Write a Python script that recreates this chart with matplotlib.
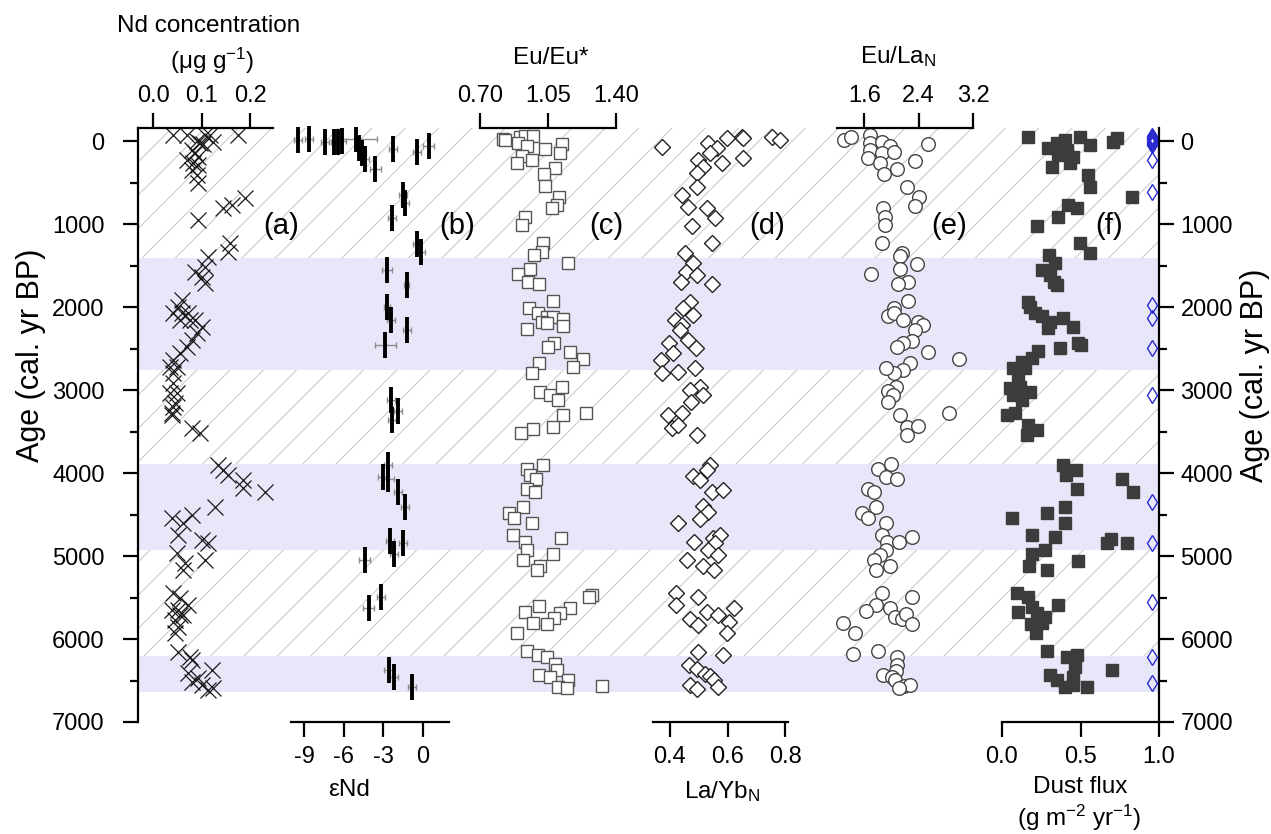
import numpy as np
import matplotlib
matplotlib.use("Agg")
import matplotlib.pyplot as plt
from matplotlib.ticker import MultipleLocator

plt.rcParams["font.family"] = ["Liberation Sans", "DejaVu Sans"]
plt.rcParams["mathtext.fontset"] = "custom"
plt.rcParams["mathtext.rm"] = "Liberation Sans"
plt.rcParams["mathtext.it"] = "Liberation Sans:italic"
plt.rcParams["hatch.linewidth"] = 0.8

W, H = 1271, 834
AGE_TOP, AGE_BOT = -157, 7000

# ---- grey/lavender bands (cal. yr BP) ----
band_lo = [1410, 3890, 6205]
band_hi = [2760, 4930, 6640]
hatch_end = 6640

# ---- (a) Nd concentration ----
a_age = [-70,-70,-70,-70,-70,0,20,40,10,110,150,190,230,260,290,350,410,500,807,771,687,952,
         1229,1337,1398,1518,1578,1639,1711,1916,2000,2072,2072,2072,2157,2157,2157,2240,2313,
         2398,2482,2554,2639,2723,2723,2795,2916,3036,3036,3157,3205,3277,3301,3458,3518,3904,
         3964,4024,4084,4181,4229,4410,4506,4542,4602,4747,4807,4843,4964,5048,5084,5169,5446,
         5506,5590,5651,5651,5711,5711,5771,5855,5928,6157,6217,6253,6373,6410,6470,6518,6554,
         6590,6614]
a_val = [0.041,0.070,0.107,0.117,0.175,0.090,0.096,0.103,0.123,0.080,0.086,0.092,0.070,0.082,
         0.092,0.080,0.090,0.092,0.144,0.163,0.189,0.092,0.158,0.154,0.113,0.107,0.086,0.101,
         0.107,0.059,0.051,0.041,0.059,0.072,0.055,0.076,0.086,0.101,0.090,0.080,0.070,0.055,
         0.041,0.035,0.049,0.041,0.041,0.035,0.049,0.045,0.041,0.039,0.039,0.080,0.096,0.134,
         0.144,0.154,0.185,0.185,0.231,0.127,0.080,0.039,0.061,0.051,0.101,0.113,0.049,0.107,
         0.065,0.061,0.041,0.055,0.072,0.039,0.051,0.055,0.061,0.045,0.051,0.045,0.051,0.076,
         0.080,0.121,0.072,0.092,0.080,0.101,0.123,0.113]

# ---- (b) eNd with errors ----
b_val = [-9.45,-8.6,-7.4,-6.7,-6.4,-6.1,-5.1,-4.8,-4.6,-4.35,-3.6,-2.25,-0.4,0.45,-1.5,-1.35,
         -2.3,-0.45,-0.15,-2.7,-1.2,-2.7,-2.4,-1.2,-2.85,-2.4,-1.9,-2.3,-2.6,-3.0,-2.6,-1.9,
         -1.35,-2.5,-2.2,-1.5,-4.4,-3.15,-4.1,-2.55,-2.2,-0.8]
b_age = [-12,-24,12,12,12,0,-20,84,145,217,337,96,133,60,650,747,928,1241,1337,1554,1735,2000,
         2157,2277,2458,3120,3253,3360,3904,4048,4072,4229,4410,4819,4976,4843,5048,5494,5627,
         6373,6458,6578]
b_err = [0.3,0.3,0.3,0.3,0.3,0.3,1.6,0.3,0.3,0.3,0.4,0.3,0.3,0.4,0.3,0.3,0.3,0.3,0.3,0.4,0.2,
         0.2,0.3,0.3,0.8,0.3,0.3,0.3,0.3,0.4,0.4,0.3,0.3,0.3,0.3,0.3,0.4,0.3,0.4,0.4,0.3,0.3]
b_age_err = 155

# ---- (c) Eu/Eu* ----
c_age = [-24,-12,-48,-60,-60,24,60,96,36,145,181,229,265,325,398,542,675,771,807,916,1012,
         1229,1337,1373,1470,1542,1602,1699,1723,1928,2012,2072,2120,2120,2181,2193,2145,2229,
         2265,2434,2482,2542,2627,2723,2675,2795,3024,3060,2964,3120,3301,3277,3470,3446,3518,
         3904,3952,4024,4072,4193,4229,4410,4482,4542,4602,4747,4831,4928,4783,5048,4976,5120,
         5169,5470,5494,5602,5675,5627,5687,5747,5807,5819,5928,6145,6193,6217,6301,6373,6434,
         6458,6494,6578,6590,6566]
c_val = [0.818,0.829,0.906,0.932,0.973,0.896,0.942,1.035,1.122,1.112,0.916,0.968,0.890,1.086,
         1.029,1.035,1.107,1.096,1.071,0.932,0.916,1.024,1.019,0.978,1.153,0.957,0.896,0.947,
         1.004,1.076,0.952,0.999,1.045,1.076,1.019,1.045,1.127,1.127,0.942,1.081,1.050,1.163,
         1.230,1.179,1.004,0.968,1.009,1.060,1.122,1.101,1.127,1.246,0.973,1.076,0.911,1.024,
         0.942,0.957,0.988,0.942,0.983,0.921,0.849,0.875,0.968,0.870,0.932,0.942,1.117,0.921,
         1.076,1.009,0.993,1.276,1.261,1.004,0.932,1.163,1.112,1.081,0.973,1.045,0.890,0.942,
         0.999,1.045,1.086,1.096,1.004,1.060,1.153,1.101,1.148,1.328]

# ---- (d) La/Yb_N ----
d_age = [72,24,-36,-48,-36,-48,-12,84,145,265,205,229,313,386,554,651,795,807,928,1024,1229,
         1349,1470,1578,1614,1699,1723,1940,2012,2096,2157,2217,2277,2398,2494,2434,2554,2639,
         2795,2783,2735,2964,3000,3060,3145,3301,3277,3458,3422,3542,3904,3964,4036,4084,4229,
         4205,4398,4470,4554,4602,4831,4783,4747,4843,4928,4988,5048,5120,5169,5446,5590,5494,
         5759,5831,5675,5711,5627,5795,5928,6157,6193,6313,6361,6422,6446,6494,6578,6554,6602]
d_val = [0.372,0.532,0.598,0.650,0.654,0.755,0.783,0.563,0.539,0.581,0.654,0.497,0.515,0.494,
         0.494,0.442,0.463,0.529,0.557,0.477,0.546,0.452,0.480,0.456,0.494,0.438,0.546,0.470,
         0.445,0.480,0.417,0.442,0.435,0.463,0.490,0.397,0.410,0.369,0.372,0.428,0.487,0.504,
         0.470,0.515,0.473,0.393,0.442,0.407,0.428,0.494,0.539,0.529,0.480,0.504,0.546,0.584,
         0.515,0.532,0.504,0.428,0.483,0.550,0.574,0.557,0.532,0.567,0.459,0.515,0.553,0.421,
         0.421,0.497,0.470,0.497,0.529,0.567,0.623,0.605,0.598,0.497,0.584,0.466,0.494,0.522,
         0.539,0.553,0.567,0.470,0.494]

# ---- (e) Eu/La_N ----
e_age = [-12,-48,-72,24,12,60,36,108,145,133,205,265,337,241,398,554,675,783,807,916,1012,1229,
         1349,1386,1482,1602,1542,1699,1723,1928,2012,2108,2072,2157,2181,2217,2277,2410,2434,
         2482,2542,2627,2675,2759,2795,2735,2964,3012,3060,3145,3301,3277,3446,3434,3542,3892,
         3952,4048,4072,4193,4229,4410,4482,4542,4602,4747,4831,4831,4771,4928,4988,5048,5120,
         5169,5446,5494,5590,5663,5627,5735,5759,5699,5819,5807,5928,6181,6145,6217,6313,6386,
         6434,6458,6494,6566,6554,6590]
e_val = [1.307,1.41,1.68,1.68,1.86,1.98,2.54,1.68,1.86,2.04,1.65,1.83,2.08,2.35,1.89,2.23,2.41,
         2.35,1.87,1.90,1.90,1.86,2.16,2.13,2.37,1.70,2.13,2.25,2.10,2.25,2.04,1.95,2.04,2.17,
         2.39,2.47,2.35,2.30,2.17,2.08,2.54,2.99,2.28,2.17,2.04,1.92,2.07,1.95,2.02,1.95,2.13,
         2.84,2.23,2.39,2.23,1.99,1.81,1.92,2.08,1.65,1.74,1.77,1.57,1.66,1.92,1.86,1.93,2.11,
         2.30,1.92,1.83,1.74,1.98,1.77,1.86,2.30,1.78,1.62,1.98,2.05,2.16,2.21,2.30,1.29,1.46,
         1.43,1.80,2.08,2.08,2.07,1.87,2.01,2.05,2.19,2.28,2.11]

# ---- (f) Dust flux ----
f_age = [-48,84,24,-12,108,193,-48,48,169,313,265,145,12,-36,410,554,675,771,807,916,1024,1229,
         1349,1373,1470,1554,1614,1699,1735,1940,2000,2072,2108,2181,2253,2133,2241,2494,2434,
         2458,2530,2614,2663,2735,2735,2819,2976,2964,3024,3060,3120,3301,3277,3422,3542,3482,
         3904,4024,3964,4072,4229,4193,4410,4482,4602,4542,4747,4771,4843,4795,4843,4928,4976,
         5060,5120,5169,5446,5494,5590,5675,5614,5687,5735,5819,5807,5928,6145,6217,6193,6337,
         6373,6434,6494,6458,6578,6554,6578]
f_val = [0.166,0.293,0.350,0.401,0.414,0.452,0.497,0.561,0.357,0.318,0.433,0.414,0.707,0.732,
         0.548,0.561,0.828,0.420,0.478,0.357,0.223,0.497,0.561,0.299,0.338,0.255,0.306,0.331,
         0.350,0.166,0.178,0.210,0.255,0.306,0.293,0.389,0.452,0.369,0.484,0.503,0.229,0.191,
         0.127,0.070,0.146,0.102,0.051,0.115,0.178,0.070,0.127,0.032,0.083,0.166,0.159,0.223,
         0.389,0.408,0.471,0.764,0.834,0.478,0.401,0.287,0.401,0.064,0.191,0.338,0.669,0.694,
         0.796,0.274,0.191,0.484,0.172,0.287,0.096,0.166,0.357,0.102,0.191,0.223,0.274,0.185,
         0.255,0.217,0.287,0.414,0.478,0.465,0.701,0.306,0.350,0.452,0.401,0.452,0.541]

# dating points drawn on the right edge
dating_age = [-65,-50,-35,-20,-5,5,20,35,50,229,614,1976,2133,2494,3060,4349,4843,5554,6217,6530]
dating_x = 0.955


def box(x0, x1, y0=128, y1=722):
    return [x0 / W, 1 - y1 / H, (x1 - x0) / W, (y1 - y0) / H]


def ftext(x, y, s, **kw):
    kw.setdefault("ha", "center"); kw.setdefault("va", "center")
    fig.text(x / W, 1 - y / H, s, **kw)


fig = plt.figure(figsize=(W / 100, H / 100), dpi=100)

# background axes: hatch, bands, left age axis
bg = fig.add_axes(box(138, 1159))
bg.set_xlim(0, 1); bg.set_ylim(AGE_BOT, AGE_TOP)
bg.axhspan(AGE_TOP, hatch_end, facecolor="none", edgecolor="#cdcdcd", hatch="/", lw=0, zorder=0)
for lo, hi in zip(band_lo, band_hi):
    bg.axhspan(lo, hi, facecolor="#e7e7f9", edgecolor="none", zorder=1)
for s in ["top", "bottom", "right"]:
    bg.spines[s].set_visible(False)
bg.spines["left"].set_linewidth(1.6)
bg.set_xticks([])
bg.yaxis.set_major_locator(MultipleLocator(1000))
bg.yaxis.set_minor_locator(MultipleLocator(500))
bg.tick_params(axis="y", which="major", length=11, width=1.6, pad=13, labelsize=17)
bg.tick_params(axis="y", which="minor", length=5.5, width=1.6)

axr = bg.twinx()
axr.set_ylim(AGE_BOT, AGE_TOP)
for s in ["top", "bottom", "left"]:
    axr.spines[s].set_visible(False)
axr.spines["right"].set_linewidth(1.6)
axr.yaxis.set_major_locator(MultipleLocator(1000))
axr.yaxis.set_minor_locator(MultipleLocator(500))
axr.tick_params(axis="y", which="major", length=11, width=1.6, pad=4.5, labelsize=17)
axr.tick_params(axis="y", which="minor", length=5.5, width=1.6)


def panel(x0, x1, xlim, ticks, labels, side):
    ax = fig.add_axes(box(x0, x1))
    ax.patch.set_alpha(0)
    ax.set_xlim(*xlim); ax.set_ylim(AGE_BOT, AGE_TOP)
    for s in ax.spines.values():
        s.set_visible(False)
    ax.spines[side].set_visible(True)
    ax.spines[side].set_linewidth(1.6)
    ax.set_yticks([])
    ax.set_xticks(ticks, labels)
    if side == "top":
        ax.xaxis.tick_top()
        ax.tick_params(axis="x", pad=4)
    else:
        ax.tick_params(axis="x", pad=6)
    ax.tick_params(axis="x", length=11, width=1.6, labelsize=17)
    return ax


axa = panel(138, 273, (-0.0318, 0.247), [0, 0.1, 0.2], ["0.0", "0.1", "0.2"], "top")
axa.plot(a_val, a_age, "x", ms=11, mew=0.9, color="#1a1a1a", clip_on=False)

axb = panel(291, 449, (-10, 2), [-9, -6, -3, 0], ["-9", "-6", "-3", "0"], "bottom")
axb.errorbar(b_val, b_age, xerr=b_err, fmt="none", ecolor="#8c8c8c", elinewidth=1.0,
             capsize=2.5, capthick=1.0, clip_on=False, zorder=2)
axb.errorbar(b_val, b_age, yerr=b_age_err, fmt="none", ecolor="k", elinewidth=2.8,
             capsize=0, clip_on=False, zorder=3)

axc = panel(480, 616, (0.70, 1.40), [0.70, 1.05, 1.40], ["0.70", "1.05", "1.40"], "top")
axc.plot(c_val, c_age, "s", ms=8, mfc="white", mec="#555555", mew=1.0, clip_on=False)

axd = panel(653, 788, (0.341, 0.810), [0.4, 0.6, 0.8], ["0.4", "0.6", "0.8"], "bottom")
axd.plot(d_val, d_age, "D", ms=8, mfc="white", mec="#222222", mew=1.0, clip_on=False)

axe = panel(837, 973, (1.2, 3.2), [1.6, 2.4, 3.2], ["1.6", "2.4", "3.2"], "top")
axe.plot(e_val, e_age, "o", ms=9.8, mfc="white", mec="#444444", mew=1.0, clip_on=False)

axf = panel(1002, 1159, (0, 1.0), [0, 0.5, 1.0], ["0.0", "0.5", "1.0"], "bottom")
axf.plot(f_val, f_age, "s", ms=8.2, color="#3c3c3c", clip_on=False)
axf.plot(np.full(len(dating_age), dating_x), dating_age, "d", ms=8, mfc="none",
         mec="#2a2ad0", mew=1.0, clip_on=False)

# axis titles
ftext(209, 26, "Nd concentration", fontsize=17.5)
ftext(212, 61, "(\u03bcg g$^{-1}$)", fontsize=17.5)
ftext(551, 58, "Eu/Eu*", fontsize=17.5)
ftext(898, 57, "Eu/La$_\\mathregular{N}$", fontsize=17.5)
ftext(349, 790, "\u03b5Nd", fontsize=17.5)
ftext(722, 792, "La/Yb$_\\mathregular{N}$", fontsize=17.5)
ftext(1080, 787, "Dust flux", fontsize=17.5)
ftext(1079, 818, "(g m$^{-2}$ yr$^{-1}$)", fontsize=17.5)
ftext(31, 355, "Age (cal. yr BP)", fontsize=22, rotation=90)
ftext(1255, 375, "Age (cal. yr BP)", fontsize=22, rotation=90)

# panel letters
for x, s in zip([281, 457, 606, 767, 949, 1109], ["(a)", "(b)", "(c)", "(d)", "(e)", "(f)"]):
    ftext(x, 226, s, fontsize=21)

fig.savefig("out.png", dpi=100)
